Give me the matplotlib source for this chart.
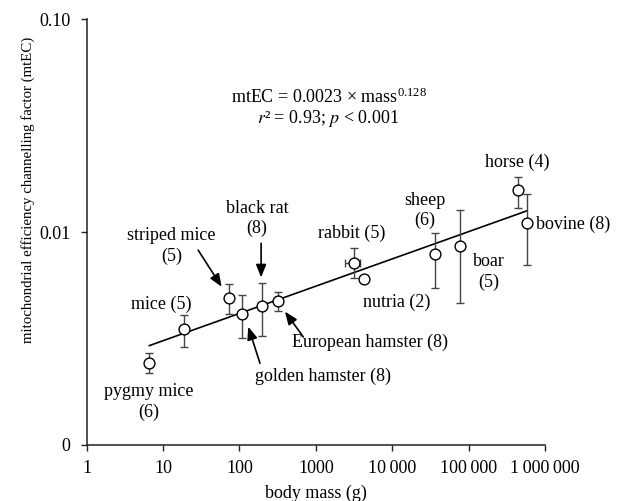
import matplotlib
matplotlib.use("Agg")
import matplotlib.pyplot as plt
import numpy as np

plt.rcParams['font.family'] = ['Liberation Serif', 'DejaVu Serif']
plt.rcParams['mathtext.fontset'] = 'stix'

# ---- data ----
species = ["pygmy mice", "mice", "striped mice", "golden hamster", "black rat",
           "European hamster", "rabbit", "nutria", "sheep", "boar", "horse", "bovine"]
n_animals = [6, 5, 5, 8, 8, 8, 5, 2, 6, 5, 4, 8]
body_mass = [6.6, 18.9, 73.5, 107, 195, 316, 3155, 4302, 36200, 76900, 442000, 580000]
mtec = [0.002434, 0.003505, 0.004884, 0.004121, 0.004495, 0.004744,
        0.00713, 0.00601, 0.00786, 0.00863, 0.01567, 0.01099]
mtec_low = [0.002171, 0.002893, 0.004107, 0.003168, 0.003258, 0.004256,
            0.0061, 0.00585, 0.00545, 0.00462, 0.0130, 0.00700]
mtec_high = [0.002712, 0.004076, 0.005683, 0.005060, 0.005744, 0.005245,
             0.00843, 0.00617, 0.00986, 0.01268, 0.0182, 0.01503]
rabbit_mass_range = [2405, 3776]
fit_coef = 0.0023
fit_exp = 0.128
x_ticks = [1, 10, 100, 1000, 10000, 100000, 1000000]
x_ticklabels = ["1", "10", "100", "1000", "10\u2009000", "100\u2009000", "1\u2009000\u2009000"]
y_ticks = [0.001, 0.01, 0.1]
y_ticklabels = ["0", "0.01", "0.10"]

fig = plt.figure(figsize=(6.27, 5.01), dpi=100)
ax = fig.add_axes([0.1383, 0.1118, 0.8692 - 0.1383, 0.962 - 0.1118])
ax.set_xscale('log')
ax.set_yscale('log')
ax.set_xlim(1, 1e6)
ax.set_ylim(0.001, 0.1)

x = np.array(body_mass)
y = np.array(mtec)
yerr = np.vstack([y - np.array(mtec_low), np.array(mtec_high) - y])

# fit line
xf = np.array([min(body_mass), max(body_mass)])
ax.plot(xf, fit_coef * xf ** fit_exp, color='black', lw=1.2, zorder=2)

ax.errorbar(x, y, yerr=yerr, fmt='none', ecolor='#454545', elinewidth=1.0,
            capsize=3, capthick=1.0, zorder=3)
ri = species.index("rabbit")
ax.errorbar([x[ri]], [y[ri]], xerr=[[x[ri] - rabbit_mass_range[0]], [rabbit_mass_range[1] - x[ri]]],
            fmt='none', ecolor='#454545', elinewidth=1.0, capsize=3, capthick=1.0, zorder=3)
ax.plot(x, y, 'o', ms=7.8, mfc='white', mec='black', mew=1.0, zorder=4, ls='none')

fs = 13
def lab(i):
    return f"{species[i]} ({n_animals[i]})"
def lab2(i):
    return f"{species[i]}\n({n_animals[i]})"

# labels without arrows
ax.text(6.54, 0.00159, lab2(0), ha='center', va='center', fontsize=fs, linespacing=1.25)
ax.text(9.59, 0.00459, lab(1), ha='center', va='center', fontsize=fs)
ax.text(2972, 0.00989, lab(6), ha='center', va='center', fontsize=fs)
ax.text(11420, 0.00465, lab(7), ha='center', va='center', fontsize=fs)
ax.text(26800, 0.01262, lab2(8), ha='center', va='center', fontsize=fs, linespacing=1.25)
ax.text(184500, 0.00649, lab2(9), ha='center', va='center', fontsize=fs, linespacing=1.25)
ax.text(435000, 0.02133, lab(10), ha='center', va='center', fontsize=fs)
ax.text(762000, 0.01091, lab(11), ha='left', va='center', fontsize=fs)

# labels with arrows
ax.text(12.97, 0.00859, lab2(2), ha='center', va='center', fontsize=fs, linespacing=1.25)
ax.text(170, 0.01156, lab2(4), ha='center', va='center', fontsize=fs, linespacing=1.25)
ax.text(487, 0.00305, lab(5), ha='left', va='center', fontsize=fs)
ax.text(160, 0.00211, lab(3), ha='left', va='center', fontsize=fs)

arrow_kw = dict(arrowstyle='-|>,head_length=0.55,head_width=0.22', color='black', lw=1.2,
                shrinkA=0, shrinkB=0, mutation_scale=14)
arrows = [((28.8, 0.00822), (58.5, 0.00553)),
          ((192, 0.00885), (192, 0.00612)),
          ((185.5, 0.00242), (130.4, 0.00359)),
          ((684, 0.00322), (394, 0.00423))]
for tail, tip in arrows:
    ax.annotate("", xy=tip, xytext=tail, arrowprops=arrow_kw, zorder=5)

# equation
ax.text(1484, 0.0431, r"mtEC = 0.0023 × mass$^{\mathregular{0.128}}$", ha='center', va='center', fontsize=fs)
ax.text(1450, 0.0343, r"$r$² = 0.93; $p$ < 0.001", ha='center', va='center', fontsize=fs)

for s in ['top', 'right']:
    ax.spines[s].set_visible(False)
for s in ['left', 'bottom']:
    ax.spines[s].set_linewidth(1.1)
    ax.spines[s].set_color('#222222')

ax.set_xticks(x_ticks)
ax.set_xticklabels(x_ticklabels)
ax.set_yticks(y_ticks)
ax.set_yticklabels(y_ticklabels)
ax.minorticks_off()
ax.tick_params(axis='both', which='major', length=4.5, width=1.0, labelsize=fs, color='#222222')
ax.tick_params(axis='x', pad=6)
ax.tick_params(axis='y', pad=7)

ax.set_xlabel("body mass (g)", fontsize=fs, labelpad=6)
ax.set_ylabel("mitochondrial efficiency channelling factor (mtEC)", fontsize=10.7)
ax.yaxis.set_label_coords(-0.112, 0.60)

fig.savefig("out.png", dpi=100)
